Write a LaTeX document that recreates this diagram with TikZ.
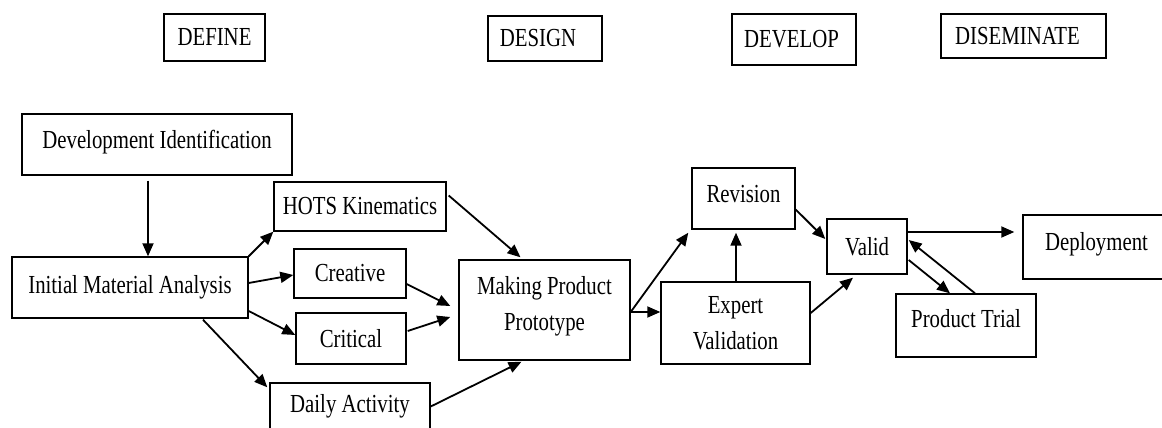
\documentclass[tikz,border=0pt]{standalone}
\usepackage{fontspec}
\setmainfont[FakeStretch=0.8]{Liberation Serif}
\usetikzlibrary{arrows.meta}
\begin{document}
\begin{tikzpicture}[x=1pt,y=-1pt,
  box/.style={draw, line width=1.4pt, inner sep=0pt, align=center,
    font=\fontsize{26}{36}\selectfont},
  link/.style={line width=1.8pt, -{Triangle[length=13pt,width=11pt]}}]
\useasboundingbox (0,0) rectangle (1162,428);

% phase headers
\node[box, minimum width=101, minimum height=47] (define) at (214.5,37.5) {DEFINE};
\node[box, minimum width=114, minimum height=45] (design) at (545,38.5) {DESIGN\hspace{14pt}};
\node[box, minimum width=124, minimum height=51] (develop) at (794,39.5) {DEVELOP\hspace{5pt}};
\node[box, minimum width=165, minimum height=44] (dissem) at (1023.5,36) {DISEMINATE\hspace{12pt}};

% process steps
\node[box, minimum width=270, minimum height=61, text depth=10pt] (devid) at (157,144.5) {Development Identification};
\node[box, minimum width=236, minimum height=61] (ima) at (130,287.5) {Initial Material Analysis};
\node[box, minimum width=172, minimum height=49] (hots) at (360,206.5) {HOTS Kinematics};
\node[box, minimum width=112, minimum height=49] (creative) at (350,273.5) {Creative};
\node[box, minimum width=110, minimum height=51] (critical) at (351,338.5) {Critical};
\node[box, minimum width=160, minimum height=47] (daily) at (350,406.5) {Daily Activity};
\node[box, minimum width=171, minimum height=100, text depth=14pt] (mpp) at (544.5,310) {Making Product\\Prototype};
\node[box, minimum width=103, minimum height=61, text depth=10pt] (revision) at (743.5,198.5) {Revision};
\node[box, minimum width=149, minimum height=82] (expert) at (735.5,323) {Expert\\Validation};
\node[box, minimum width=80, minimum height=55] (valid) at (867,246.5) {Valid};
\node[box, minimum width=140, minimum height=63, text depth=15pt] (trial) at (966,325.5) {Product Trial};
\node[box, minimum width=147, minimum height=64, text depth=11pt] (deploy) at (1096.5,247) {Deployment};

% connectors
\draw[link] ([shift={(-9,5)}]devid.south) -- ([shift={(18,0)}]ima.north);
\draw[link] (ima.north east) -- (hots.south west);
\draw[link] ([shift={(0,-4.5)}]ima.east) -- ([shift={(0,1.5)}]creative.west);
\draw[link] ([shift={(0,23.5)}]ima.east) -- ([shift={(0,-3.5)}]critical.west);
\draw[link] ([shift={(73,1)}]ima.south) -- ([shift={(-2,5)}]daily.north west);
\draw[link] ([shift={(2,-11)}]hots.east) -- ([shift={(-24,-2)}]mpp.north);
\draw[link] ([shift={(0,10.5)}]creative.east) -- ([shift={(-8,-4)}]mpp.west);
\draw[link] ([shift={(1,-7.5)}]critical.east) -- ([shift={(-8,7)}]mpp.west);
\draw[link] (daily.east) -- ([shift={(-23,1)}]mpp.south);
\draw[link] ([shift={(0,2)}]mpp.east) -- ([shift={(-3,3)}]revision.south west);
\draw[link] ([shift={(0,2)}]mpp.east) -- ([shift={(0,-11)}]expert.west);
\draw[link] ([shift={(0.5,0)}]expert.north) -- ([shift={(-7.5,3)}]revision.south);
\draw[link] ([shift={(0,11)}]revision.east) -- ([shift={(-1,-7.5)}]valid.west);
\draw[link] ([shift={(0,-10)}]expert.east) -- ([shift={(-14,3)}]valid.south);
\draw[link] ([shift={(0,-14.5)}]valid.east) -- ([shift={(-8,-15)}]deploy.west);
\draw[link] ([shift={(1,13.5)}]valid.east) -- ([shift={(-16,0)}]trial.north);
\draw[link] ([shift={(9,0)}]trial.north) -- ([shift={(1,-6.5)}]valid.east);
\end{tikzpicture}
\end{document}
